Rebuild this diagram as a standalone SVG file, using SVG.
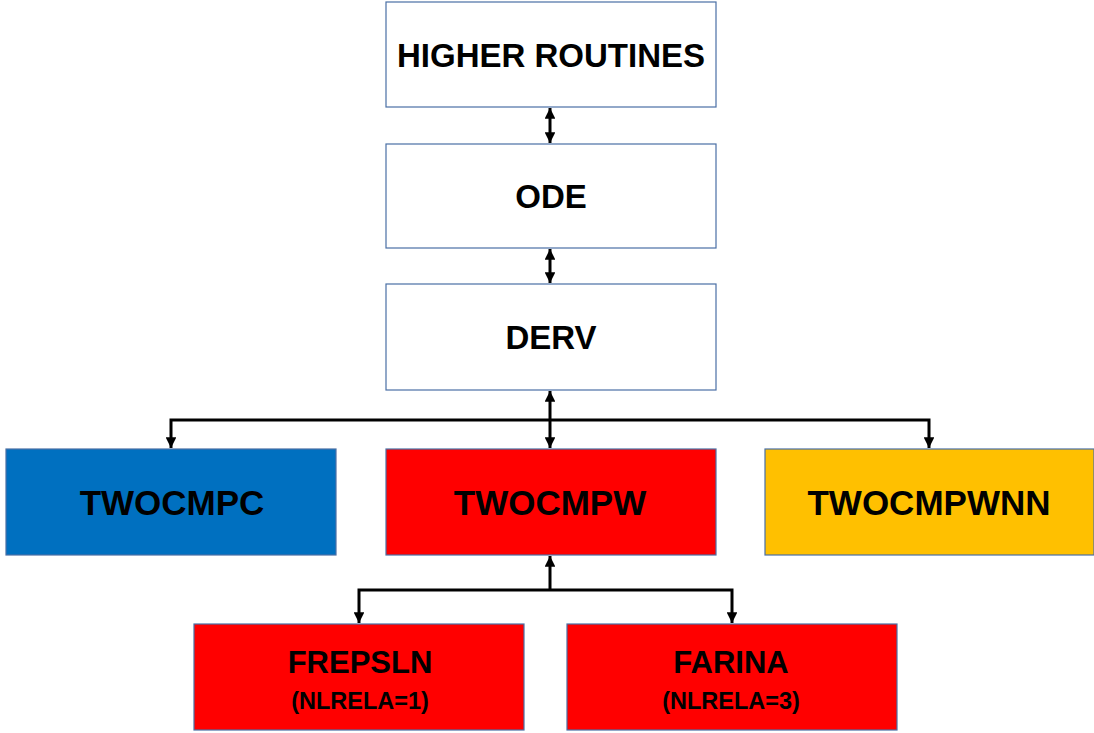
<svg xmlns="http://www.w3.org/2000/svg" width="1094" height="733" viewBox="0 0 1094 733">
  <style>
    .box { stroke: #4A6FA5; stroke-width: 1.2; }
    .white { fill: #FFFFFF; }
    .blue { fill: #0070C0; }
    .red { fill: #FF0000; }
    .amber { fill: #FFC000; }
    .label { font-family: "Liberation Sans", Arial, sans-serif; font-weight: bold; fill: #000; text-anchor: middle; }
    .big { font-size: 33px; }
    .row { font-size: 35px; }
    .mid { font-size: 31px; }
    .small { font-size: 23.5px; }
    .wire { fill: none; stroke: #000; stroke-width: 3; }
  </style>
  <defs>
    <marker id="head" viewBox="0 0 10 10" refX="10" refY="5" markerWidth="3.6" markerHeight="3.6" markerUnits="strokeWidth" orient="auto-start-reverse">
      <path d="M0,0 L10,5 L0,10 Z" fill="#000"/>
    </marker>
  </defs>

  <rect width="1094" height="733" fill="#FFFFFF"/>

  <g id="connectors">
    <line class="wire" x1="550" y1="108" x2="550" y2="143" marker-start="url(#head)" marker-end="url(#head)"/>
    <line class="wire" x1="550" y1="249" x2="550" y2="283" marker-start="url(#head)" marker-end="url(#head)"/>
    <line class="wire" x1="550" y1="391" x2="550" y2="448" marker-start="url(#head)" marker-end="url(#head)"/>
    <path class="wire" d="M550,420 H171 V448" marker-end="url(#head)"/>
    <path class="wire" d="M550,420 H929 V448" marker-end="url(#head)"/>
    <line class="wire" x1="550" y1="590" x2="550" y2="556" marker-end="url(#head)"/>
    <path class="wire" d="M550,590 H359 V623" marker-end="url(#head)"/>
    <path class="wire" d="M550,590 H732 V623" marker-end="url(#head)"/>
  </g>

  <g id="higher-routines">
    <rect class="box white" x="386" y="2" width="330" height="105"/>
    <text class="label big" x="551" y="67">HIGHER ROUTINES</text>
  </g>
  <g id="ode">
    <rect class="box white" x="386" y="144" width="330" height="104"/>
    <text class="label big" x="551" y="208">ODE</text>
  </g>
  <g id="derv">
    <rect class="box white" x="386" y="284" width="330" height="106"/>
    <text class="label big" x="551" y="349">DERV</text>
  </g>
  <g id="twocmpc">
    <rect class="box blue" x="6" y="449" width="330" height="106"/>
    <text class="label row" x="172" y="515">TWOCMPC</text>
  </g>
  <g id="twocmpw">
    <rect class="box red" x="386" y="449" width="330" height="106"/>
    <text class="label row" x="550" y="515">TWOCMPW</text>
  </g>
  <g id="twocmpwnn">
    <rect class="box amber" x="765" y="449" width="329" height="106"/>
    <text class="label row" x="929" y="515">TWOCMPWNN</text>
  </g>
  <g id="frepsln">
    <rect class="box red" x="194" y="624" width="330" height="106"/>
    <text class="label mid" x="360" y="673">FREPSLN</text>
    <text class="label small" x="360" y="709">(NLRELA=1)</text>
  </g>
  <g id="farina">
    <rect class="box red" x="567" y="624" width="330" height="106"/>
    <text class="label mid" x="731" y="673">FARINA</text>
    <text class="label small" x="731" y="709">(NLRELA=3)</text>
  </g>
</svg>
